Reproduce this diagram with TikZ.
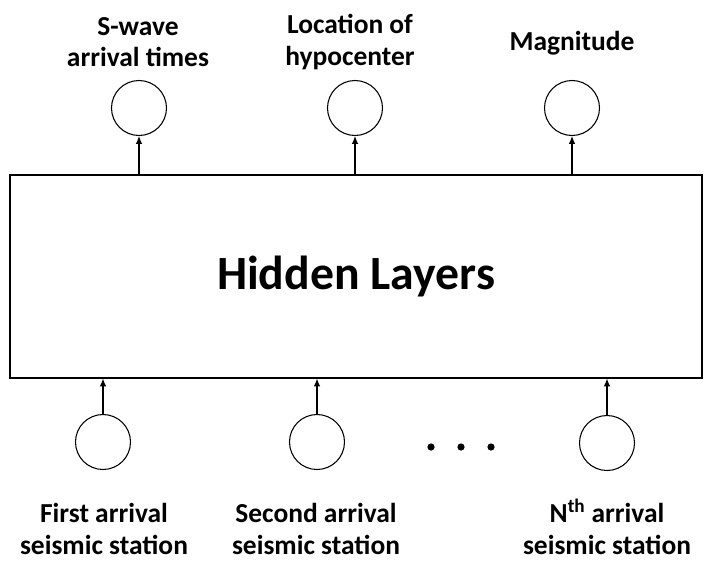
\documentclass[tikz,border=0pt]{standalone}
\usepackage{fontspec}
\setmainfont{Carlito}
\usetikzlibrary{arrows.meta}
\tikzset{
  unit/.style={draw,thick,circle,minimum size=55\pxu,inner sep=0pt},
  lbl/.style={font=\bfseries\fontsize{20.7}{23.5}\selectfont,align=center},
  feed/.style={thick,-{Latex[length=6pt,width=5pt]}}
}
\newlength{\pxu}\setlength{\pxu}{0.0265cm}
\begin{document}
\begin{tikzpicture}[x=0.0265cm,y=-0.0265cm]
    \useasboundingbox (0,0) rectangle (715,573);
    \node[draw,thick,minimum width=692\pxu,minimum height=203\pxu,
      font=\bfseries\fontsize{36}{40}\selectfont] (hidden) at (356,276.5) {Hidden Layers};
    % outputs
    \node[unit] (swave) at (139,108) {};
    \node[unit] (hypo) at (355,108) {};
    \node[unit] (mag) at (572,108) {};
    \node[lbl] (swavetxt) at (138,42) {S-wave\\arrival times};
    \node[lbl] (hypotxt) at (350,42) {Location of\\hypocenter};
    \node[lbl] (magtxt) at (572,43) {Magnitude};
    \draw[feed] (hidden.north -| swave) -- (swave);
    \draw[feed] (hidden.north -| hypo) -- (hypo);
    \draw[feed] (hidden.north -| mag) -- (mag);
    % inputs
    \node[unit] (first) at (103,442) {};
    \node[unit] (second) at (317,442) {};
    \node[unit] (nth) at (607,443) {};
    \node[lbl] (firsttxt) at (104,529) {First arrival\\seismic station};
    \node[lbl] (secondtxt) at (316,529) {Second arrival\\seismic station};
    \node[lbl] (nthtxt) at (607,529) {N\smash{\textsuperscript{th}} arrival\\seismic station};
    \draw[feed] (first) -- (first |- hidden.south);
    \draw[feed] (second) -- (second |- hidden.south);
    \draw[feed] (nth) -- (nth |- hidden.south);
    \foreach \x in {431,461,491} \fill (\x,447) circle (3.6);
\end{tikzpicture}
\end{document}
